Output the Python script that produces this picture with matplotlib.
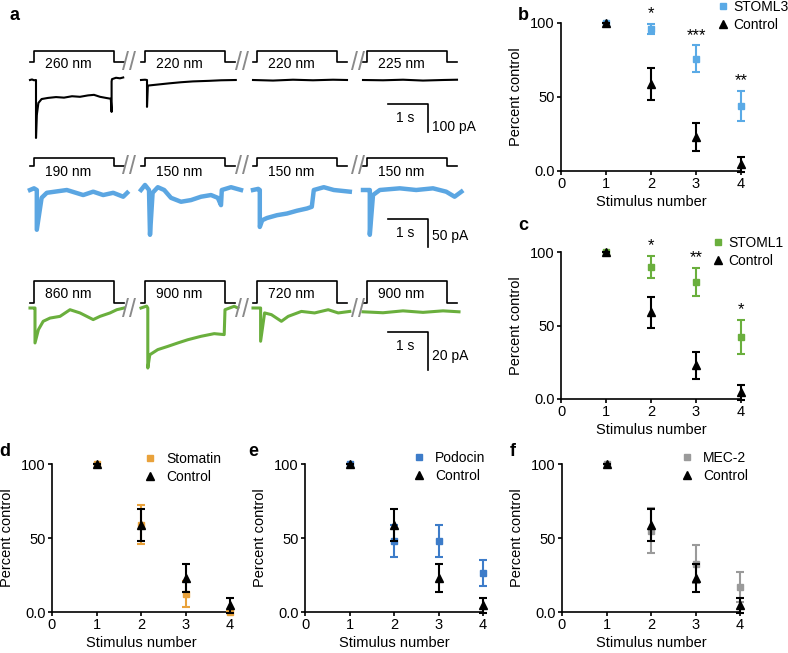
import matplotlib.pyplot as plt
import numpy as np

plt.rcParams['font.family'] = ['Liberation Sans', 'DejaVu Sans']
plt.rcParams['font.size'] = 10

W, H = 788, 653

# ---------- panel a: example sweeps (t in s within a sweep, current in pA) ----------
stim_labels = [["260 nm", "220 nm", "220 nm", "225 nm"],
               ["190 nm", "150 nm", "150 nm", "150 nm"],
               ["860 nm", "900 nm", "720 nm", "900 nm"]]
scale_pa = [100, 50, 20]

black_t = [[0, 0.05, 0.1, 0.15, 0.15, 0.17, 0.21, 0.29, 0.45, 0.65, 0.85, 1.05, 1.25, 1.45, 1.6, 1.75, 1.9, 2.02, 2.04, 2.04, 2.05, 2.15, 2.25, 2.33],
           [0, 0.1, 0.15, 0.15, 0.17, 0.3, 0.5, 0.7, 1.0, 1.3, 1.7, 2.0, 2.37],
           [0, 0.5, 1.0, 1.5, 2.0, 2.35],
           [0, 0.5, 1.0, 1.5, 2.0, 2.35]]
black_i = [[0, 2, -1, 0, -207, -125, -82, -68, -64, -61, -63, -58, -60, -55, -53, -60, -64, -67, -114, -5, 3, 8, 6, 9],
           [0, 1, 0, -96, -20, -18, -15, -12, -8, -5, -3, -1, 0],
           [0, -2, 1, -1, 1, 0],
           [0, -1, 1, -2, 0, 1]]

blue_t = [[0, 0.1, 0.17, 0.17, 0.29, 0.42, 0.92, 1.33, 1.58, 1.83, 2.08, 2.33, 2.43],
          [0, 0.1, 0.2, 0.225, 0.29, 0.42, 0.58, 0.75, 1.0, 1.25, 1.5, 1.75, 1.92, 2.0, 2.02, 2.25, 2.5],
          [0, 0.13, 0.17, 0.17, 0.23, 0.35, 0.6, 0.85, 1.1, 1.35, 1.47, 1.52, 1.77, 2.02, 2.42],
          [0, 0.12, 0.17, 0.17, 0.25, 0.42, 0.92, 1.33, 1.75, 2.08, 2.29, 2.46]]
blue_i = [[0, 3, 0, -71, -14, -5, 0, -9, -3, -9, -5, -12, -5],
          [0, 9, 0, -80, -5, 5, 0, -14, -21, -18, -12, -9, -14, -27, 0, 5, 0],
          [0, 2, 0, -66, -54, -50, -45, -42, -37, -33, -30, 0, 5, 0, -3],
          [0, 0, 0, -80, -9, 0, 3, 0, 3, -3, -12, -3]]

green_t = [[0, 0.1, 0.125, 0.125, 0.21, 0.33, 0.5, 0.75, 1.0, 1.25, 1.58, 1.75, 2.0, 2.17, 2.35],
           [0, 0.14, 0.17, 0.17, 0.22, 0.42, 0.67, 0.92, 1.17, 1.5, 1.83, 2.08, 2.1, 2.33, 2.42],
           [0, 0.15, 0.19, 0.19, 0.29, 0.46, 0.71, 0.88, 1.21, 1.54, 1.88, 2.13, 2.42],
           [0, 0.5, 1.0, 1.5, 2.0, 2.4]]
green_i = [[0, 0, 0, -18.4, -11.4, -7, -5.3, -4.4, -0.9, -2.6, -6.1, -4.4, -2.6, -0.9, 0],
           [0, 1, 0, -31.6, -24.6, -21.9, -20.2, -18.4, -16.7, -14.9, -13.5, -14, -0.9, 0.9, 0],
           [0, 0, 0, -17.5, -2.6, -3.5, -7, -4.4, -1.8, -2.6, -0.9, -2.6, -1.8],
           [-2, -2.5, -1.5, -2.3, -1.5, -2]]

step_t = [0, 0.1, 0.1, 2.1, 2.1, 2.35]

# ---------- panels b-f: percent of first response ----------
stim = [1, 2, 3, 4]
ctrl_mean = [100, 59, 23, 4.5]
ctrl_sem = [0, 10.7, 9.2, 5]
stoml3_mean = [100, 96, 76, 44]
stoml3_sem = [0, 3.4, 8.8, 10]
stoml1_mean = [100, 89.8, 79.7, 42.4]
stoml1_sem = [0, 7.5, 9.7, 11.6]
stomatin_mean = [100, 59, 12, 0]
stomatin_sem = [0, 13, 8.8, 1]
podocin_mean = [100, 48, 48, 26.4]
podocin_sem = [0, 11, 10.7, 9]
mec2_mean = [100, 55, 32.4, 16.7]
mec2_sem = [0, 15, 12.6, 10]
stoml3_stars = ['*', '***', '**']
stoml1_stars = ['*', '**', '*']

fig = plt.figure(figsize=(W / 100, H / 100), dpi=100)


def trace_row(top, bottom, base, k):
    ax = fig.add_axes([25 / W, 1 - bottom / H, 445 / W, (bottom - top) / H])
    ax.set_xlim(0, 445 / 40)
    ax.set_ylim(-(bottom - base) * k, (base - top) * k)
    ax.axis('off')
    return ax


sweep_off = [0.125, 2.9, 5.7, 8.45]
brk_x = [2.6, 5.43, 8.33]
# top, bottom, baseline, step top/bottom, label, break, scale bar, scale label offsets (px)
rows = [dict(top=40, bottom=145, base=80, sh=29, sl=18, lab=16, brk=17, hbar=24, sly=23),
        dict(top=150, bottom=255, base=190, sh=32, sl=24, lab=18, brk=23, hbar=29, sly=17),
        dict(top=270, bottom=385, base=308, sh=27, sl=5, lab=14, brk=-2, hbar=24, sly=24)]
traces = [(black_t, black_i, 'black', 1.5), (blue_t, blue_i, '#5ba6e2', 3.2),
          (green_t, green_i, '#6aaf3d', 2.2)]

for r, row in enumerate(rows):
    k = scale_pa[r] / (28 if r < 2 else 38)
    ax = trace_row(row['top'], row['bottom'], row['base'], k)
    tt, ii, col, lw = traces[r]
    hi, lo = row['sh'] * k, row['sl'] * k
    for j in range(4):
        off = sweep_off[j]
        ax.plot(np.array(tt[j]) + off, ii[j], color=col, lw=lw, solid_joinstyle='round')
        ax.plot(np.array(step_t) + off, [lo, lo, hi, hi, lo, lo], color='black', lw=1.2)
        ax.text(off + 0.95, row['lab'] * k, stim_labels[r][j], ha='center', va='center', fontsize=10)
    for x in brk_x:
        ax.text(x, row['brk'] * k, '//', ha='center', va='center', fontsize=18,
                color='#8a8a8a', fontweight='light')
    yh = -row['hbar'] * k
    ax.plot([9.075, 10.075, 10.075], [yh, yh, yh - scale_pa[r]], color='black', lw=1.2)
    ax.text(9.5, yh - 14 * k, '1 s', ha='center', va='center', fontsize=10)
    ax.text(10.175, yh - row['sly'] * k, f'{scale_pa[r]} pA', ha='left', va='center', fontsize=10)


def stim_panel(rect, mean, sem, color, name, leg, tpad, stars=None):
    l, t, r, b = rect
    ax = fig.add_axes([l / W, 1 - b / H, (r - l) / W, (b - t) / H])
    eb = ax.errorbar(stim, mean, yerr=sem, fmt='s', color=color, ms=5, capsize=3,
                     elinewidth=1.5, capthick=1.5, zorder=3)
    ec = ax.errorbar(stim, ctrl_mean, yerr=ctrl_sem, fmt='^', color='black', ms=5.8,
                     capsize=3, elinewidth=1.5, capthick=1.5, zorder=4)
    for c in (eb, ec):
        for art in c.get_children():
            art.set_clip_on(False)
    if stars:
        for x, m, s, st in zip(stim[1:], mean[1:], sem[1:], stars):
            ax.annotate(st, (x, m + s), xytext=(0, 2), textcoords='offset points',
                        ha='center', va='bottom', fontsize=12)
    ax.set_xlim(0, 4)
    ax.set_ylim(0, 100)
    ax.set_xticks(range(5))
    ax.set_yticks([0, 50, 100])
    ax.set_yticklabels(['0.0', '50', '100'])
    for s in ('top', 'right'):
        ax.spines[s].set_visible(False)
    for s in ('left', 'bottom'):
        ax.spines[s].set_linewidth(1.2)
    ax.tick_params(length=3, width=1.2, pad=1.5, labelsize=10.5)
    ax.set_xlabel('Stimulus number', fontsize=10.5, labelpad=3)
    ax.set_ylabel('Percent control', fontsize=10.5, labelpad=5)
    ax.legend([eb[0], ec[0]], [name, 'Control'], loc='upper left',
              bbox_to_anchor=(leg[0] / W, 1 - leg[1] / H), bbox_transform=fig.transFigure,
              frameon=False, borderpad=0, borderaxespad=0, handlelength=0.8,
              handletextpad=tpad, labelspacing=0.3, fontsize=10, markerscale=0.95)
    return ax


stim_panel((561, 23, 741, 171), stoml3_mean, stoml3_sem, '#5aaae6', 'STOML3', (717, 0), 0.35, stoml3_stars)
stim_panel((561, 252, 741, 399), stoml1_mean, stoml1_sem, '#6aaf3d', 'STOML1', (712, 236), 0.35, stoml1_stars)
stim_panel((52, 464, 230, 612), stomatin_mean, stomatin_sem, '#e9a23b', 'Stomatin', (144, 452), 0.8)
stim_panel((305, 464, 483, 612), podocin_mean, podocin_sem, '#3d7cc9', 'Podocin', (413, 451), 0.8)
stim_panel((562, 464, 740, 612), mec2_mean, mec2_sem, '#9a9a9a', 'MEC-2', (681, 451), 0.8)

for letter, (x, y) in zip('abcdef', [(14, 15), (523, 15), (523, 225), (5, 452), (253, 452), (513, 451)]):
    fig.text(x / W, 1 - y / H, letter, fontsize=13, fontweight='bold', ha='center', va='center')

fig.savefig('out.png', dpi=100)
